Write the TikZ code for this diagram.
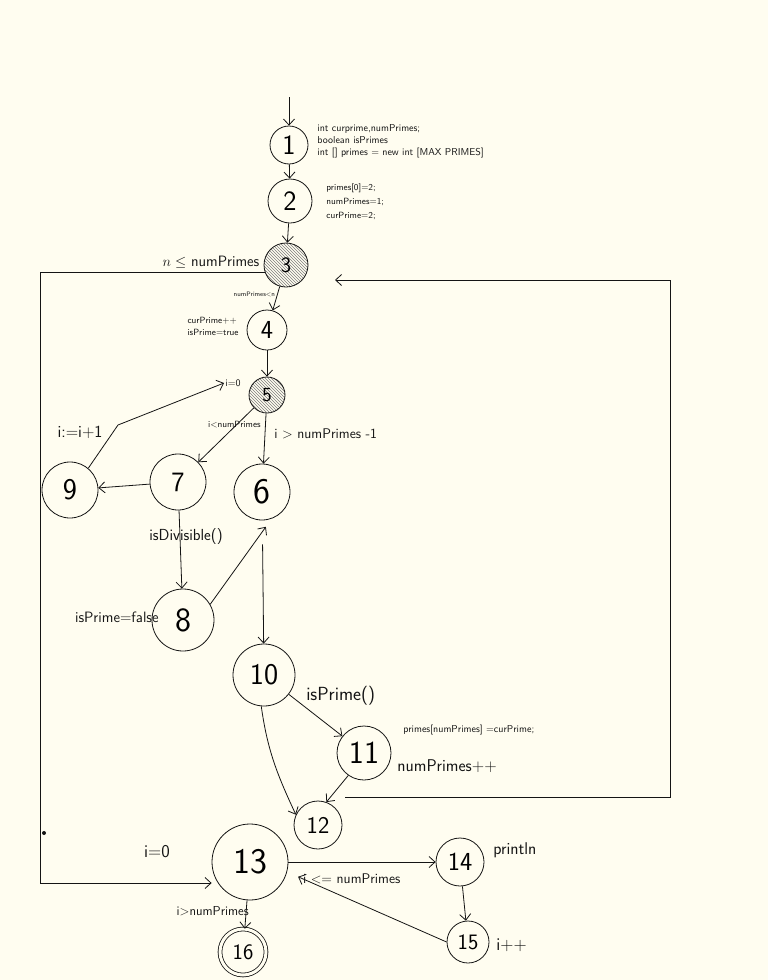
\documentclass[tikz,border=0pt]{standalone}
\usepackage{tikz}
\usetikzlibrary{arrows.meta,positioning,patterns}
\definecolor{paper}{RGB}{255,253,240}
\definecolor{ink}{RGB}{20,20,20}
\newcommand{\sz}[1]{\fontsize{#1}{#1}\selectfont\sffamily}

\begin{document}
\begin{tikzpicture}[x=1pt, y=-1pt, line width=0.8pt,
    cnode/.style={draw=ink, circle, inner sep=0pt, minimum size=#1},
    hatched/.style={pattern=north west lines, pattern color=ink!55},
    arr/.style={draw=ink, -{Straight Barb[length=6pt,width=11pt]}},
    note/.style={inner sep=1pt, align=left, text=ink}]
    \fill[paper] (0,0) rectangle (768,980);
    % blocks
    \node[cnode=38pt, font=\sz{28}] (n1) at (289,145) {1};
    \node[cnode=44pt, font=\sz{28}] (n2) at (290,201) {2};
    \node[cnode=44pt, hatched, font=\sz{22}] (n3) at (286,265) {3};
    \node[cnode=40pt, font=\sz{26}] (n4) at (267,330) {4};
    \node[cnode=36pt, hatched, font=\sz{20}] (n5) at (267,395) {5};
    \node[cnode=56pt, font=\sz{36}] (n6) at (262,492) {6};
    \node[cnode=56pt, font=\sz{28}] (n7) at (178,482) {7};
    \node[cnode=56pt, font=\sz{30}] (n9) at (70,490) {9};
    \node[cnode=62pt, font=\sz{34}] (n8) at (183,620) {8};
    \node[cnode=62pt, font=\sz{30}] (n10) at (264,675) {10};
    \node[cnode=54pt, font=\sz{32}] (n11) at (364,753) {11};
    \node[cnode=48pt, font=\sz{24}] (n12) at (318,825) {12};
    \node[cnode=76pt, font=\sz{36}] (n13) at (250,862) {13};
    \node[cnode=48pt, font=\sz{26}] (n14) at (460,862) {14};
    \node[cnode=42pt, font=\sz{22}] (n15) at (468,942) {15};
    \node[cnode=46pt, double=paper, double distance=3pt, font=\sz{22}] (n16) at (243,952) {16};

    % statements
    \node[note, font=\sz{10}, anchor=west] (decl) at (316,141)
      {int curprime,numPrimes;\\[2pt] boolean isPrimes\\[2pt] int [] primes = new int [MAX PRIMES]};
    \node[note, font=\sz{9}, anchor=west] (init) at (325,202)
      {primes[0]=2;\\[5pt] numPrimes=1;\\[5pt] curPrime=2;};
    \node[note, font=\sz{9}, anchor=east] (incr) at (240,326) {curPrime++\\[3pt] isPrime=true};
    \node[note, font=\sz{15}, anchor=east] (flag) at (160,617) {isPrime=false};
    \node[note, font=\sz{10}, anchor=west] (store) at (402,730) {primes[numPrimes] =curPrime;};
    \node[note, font=\sz{17}, anchor=west] (count) at (396,766) {numPrimes++};
    \node[note, font=\sz{18}] (reset) at (157,852) {i=0};
    \node[note, font=\sz{17}, anchor=west] (print) at (492,850) {println};
    \node[note, font=\sz{18}, anchor=west] (next) at (495,945) {i++};
    \node[note, font=\sz{10}] (i0) at (233,383) {i=0};
    \node[note, font=\sz{17}] (incj) at (80,432) {i:=i+1};
    \node[note, font=\sz{15}] (exitc) at (211,262) {$n \le$ numPrimes};

    % edges
    \coordinate (start) at (289,97);
    \draw[arr] (start) -- (n1);
    \draw[arr] (n1) -- (n2);
    \draw[arr] (n2) -- (n3);
    \draw[arr] (n3) -- node[note, font=\sz{6.5}, left=1pt, pos=0.35] {numPrimes<n} (n4);
    \coordinate (l2) at (40,883);
    \draw[arr] (n3.200) -| (l2) -- (n13.west |- l2);
    \fill[ink] (44,833) circle (2pt);
    \draw[arr] (n4) -- (n5);
    \draw[arr] (n5) -- node[note, font=\sz{9}, pos=0.35, above=-2pt] {i<numPrimes} (n7);
    \draw[arr] (n5) -- node[note, font=\sz{14}, pos=0.4, right=8pt] {i > numPrimes -1} (n6);
    \draw[arr] (n7) -- (n9);
    \coordinate (bend) at (118,425);
    \draw[arr] (n9.50) -- (bend) -- (i0.west);
    \draw[arr] (n7) -- node[note, font=\sz{16}, pos=0.34, xshift=6pt] {isDivisible()} (n8);
    \draw[arr, shorten >=10pt] (n8.30) -- (n6.290);
    \draw[arr, shorten <=24pt] (n6) -- (n10);
    \draw[arr] (n10) -- node[note, font=\sz{19}, pos=0.3, anchor=south west] {isPrime()} (n11);
    \draw[arr] (n10.265) to[out=-82, in=115] (n12.155);
    \draw[arr] (n11.235) -- (n12.70);
    \coordinate (c12) at (345,797);
    \coordinate (r1) at (670,797);
    \coordinate (r2) at (670,280);
    \coordinate (r3) at (335,280);
    \draw[arr] (c12) -- (r1) -- (r2) -- (r3);
    \draw[arr] (n13.east) -- node[note, font=\sz{14}, pos=0.43, below=10pt] {i <= numPrimes} (n14.west);
    \draw[arr] (n14) -- (n15);
    \draw[arr, shorten >=12pt] (n15.west) -- (n13.-15);
    \draw[arr] (n13) -- node[note, font=\sz{13}, pos=0.4, anchor=east, xshift=4pt] {i>numPrimes} (n16);
\end{tikzpicture}
\end{document}
